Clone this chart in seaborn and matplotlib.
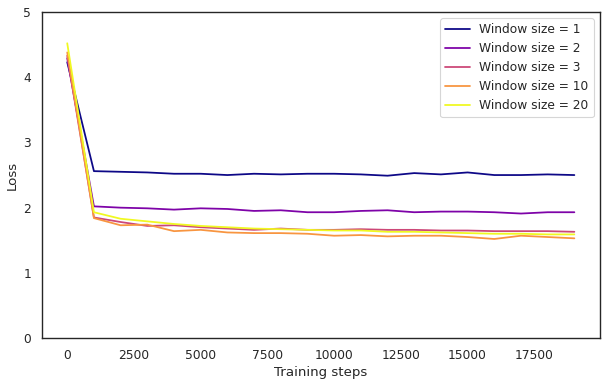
import numpy as np
import pandas as pd
import matplotlib
matplotlib.use("Agg")
import matplotlib.pyplot as plt
import seaborn as sns

steps = list(range(0, 20000, 1000))
labels = ["Window size = 1", "Window size = 2", "Window size = 3",
          "Window size = 10", "Window size = 20"]
loss_w1 = [4.23, 2.56, 2.55, 2.54, 2.52, 2.52, 2.50, 2.52, 2.51, 2.52,
           2.52, 2.51, 2.49, 2.53, 2.51, 2.54, 2.50, 2.50, 2.51, 2.50]
loss_w2 = [4.29, 2.02, 2.00, 1.99, 1.97, 1.99, 1.98, 1.95, 1.96, 1.93,
           1.93, 1.95, 1.96, 1.93, 1.94, 1.94, 1.93, 1.91, 1.93, 1.93]
loss_w3 = [4.33, 1.85, 1.78, 1.72, 1.73, 1.70, 1.68, 1.66, 1.68, 1.66,
           1.66, 1.67, 1.66, 1.66, 1.65, 1.65, 1.64, 1.64, 1.64, 1.63]
loss_w10 = [4.38, 1.84, 1.73, 1.74, 1.64, 1.66, 1.62, 1.61, 1.61, 1.60,
            1.57, 1.58, 1.56, 1.57, 1.57, 1.55, 1.52, 1.57, 1.55, 1.53]
loss_w20 = [4.52, 1.93, 1.83, 1.79, 1.75, 1.72, 1.70, 1.68, 1.67, 1.66,
            1.65, 1.65, 1.63, 1.63, 1.62, 1.61, 1.60, 1.60, 1.59, 1.59]
series = [loss_w1, loss_w2, loss_w3, loss_w10, loss_w20]

rows = []
for lab, vals in zip(labels, series):
    for s, v in zip(steps, vals):
        rows.append({"step": s, "loss": v, "series": lab})
df = pd.DataFrame(rows)

sns.set_theme(style="white", context="notebook")
palette = [matplotlib.colormaps["plasma"](t) for t in np.linspace(0, 1, 5)]

DPI = 80
fig, ax = plt.subplots(figsize=(607 / DPI, 386 / DPI), dpi=DPI)
sns.lineplot(data=df, x="step", y="loss", hue="series", hue_order=labels,
             palette=palette, ax=ax, linewidth=1.6)
ax.set_ylim(0, 5)
ax.set_xlabel("Training steps")
ax.set_ylabel("Loss")
ax.legend(loc="upper right")
for sp in ax.spines.values():
    sp.set_color("#262626")
fig.subplots_adjust(left=0.069, right=0.988, top=0.969, bottom=0.124)
fig.savefig("out.png", dpi=DPI)
